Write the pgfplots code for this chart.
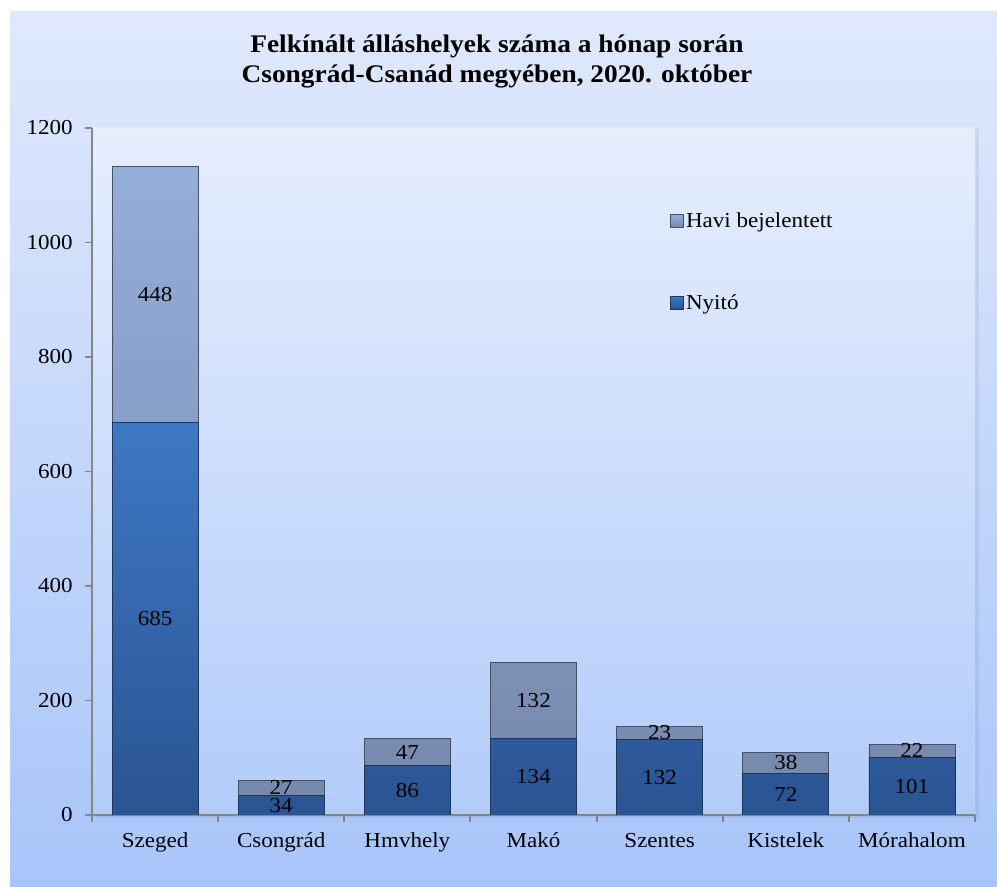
\documentclass[border=0pt]{standalone}
\usepackage{pgfplots}
\pgfplotsset{compat=1.18}
\usepackage{fontspec}
\setmainfont{Liberation Serif}[FakeStretch=1.08]
\definecolor{bgtop}{RGB}{224,233,252}
\definecolor{bgbot}{RGB}{168,197,250}
\definecolor{patop}{RGB}{230,238,253}
\definecolor{pabot}{RGB}{178,204,250}
\definecolor{nyA}{RGB}{62,120,196}
\definecolor{nyB}{RGB}{42,84,146}
\definecolor{nyL}{RGB}{30,55,95}
\definecolor{hvA}{RGB}{148,174,218}
\definecolor{hvB}{RGB}{118,136,172}
\definecolor{hvL}{RGB}{70,80,100}
\definecolor{axgray}{RGB}{134,134,134}
\begin{document}
\begin{tikzpicture}[x=0.75pt,y=0.75pt]
\path[fill=white] (0,0) rectangle (997,887);
\shade[top color=bgtop,bottom color=bgbot] (10,0) rectangle (997,875);
\fill[black,opacity=0.06] (95,69) rectangle (979,759);
\shade[top color=patop,bottom color=pabot] (92,72) rectangle (975,759);
\node[align=center,font=\bfseries\fontsize{19}{22.5}\selectfont] at (497,825)
  {Felkínált álláshelyek száma a hónap során\\Csongrád-Csanád megyében, 2020. október};
\begin{axis}[
  at={(69pt,54pt)}, anchor=south west,
  scale only axis, width=662.25pt, height=515.25pt,
  xmin=-0.5, xmax=6.5, ymin=0, ymax=1200,
  ybar stacked, bar width=64.5pt,
  ytick={0,200,...,1200},
  xtick={0,...,6},
  xticklabels={Szeged,Csongrád,Hmvhely,Makó,Szentes,Kistelek,Mórahalom},
  minor xtick={-0.5,0.5,...,6.5},
  major x tick style={draw=none},
  axis x line*=bottom, axis y line*=left,
  axis line style={axgray,line width=1.4pt,-},
  every outer x axis line/.append style={-},
  every outer y axis line/.append style={-},
  tick style={axgray,line width=1.4pt},
  tick align=outside,
  major tick length=5pt, minor tick length=5pt,
  /pgf/number format/1000 sep={},
  /pgf/number format/assume math mode=true,
  ticklabel style={font=\fontsize{16}{19}\selectfont},
  yticklabel style={xshift=-6pt},
  xticklabel style={anchor=north,text height=11pt,text depth=4pt,yshift=-5pt},
  legend style={at={(0.650,0.885)},anchor=north west,draw=none,fill=none,
    font=\fontsize{16}{19}\selectfont,row sep=45pt,
    /tikz/every even column/.append style={column sep=2pt}},
  legend cell align=left,
  reverse legend,
  legend image code/.code={\draw[#1,line width=0.4pt] (0pt,-4.5pt) rectangle (9.5pt,5pt);},
]
\addplot[draw=nyL,line width=0.6pt,top color=nyA,bottom color=nyB]
  coordinates {(0,685) (1,34) (2,86) (3,134) (4,132) (5,72) (6,101)};
\addlegendentry{Nyitó}
\addplot[draw=hvL,line width=0.6pt,top color=hvA,bottom color=hvB]
  coordinates {(0,448) (1,27) (2,47) (3,132) (4,23) (5,38) (6,22)};
\addlegendentry{Havi bejelentett}
\end{axis}
\begin{axis}[
  at={(69pt,54pt)}, anchor=south west,
  scale only axis, width=662.25pt, height=515.25pt,
  xmin=-0.5, xmax=6.5, ymin=0, ymax=1200, hide axis,
]
\addplot[only marks, mark=none, nodes near coords, point meta=explicit symbolic,
  nodes near coords style={anchor=center,font=\fontsize{16}{19}\selectfont,text=black}]
  table[meta=lab] {
x y lab
0 342.5 685
0 909 448
1 17 34
1 47.5 27
2 43 86
2 109.5 47
3 67 134
3 200 132
4 66 132
4 143.5 23
5 36 72
5 91 38
6 50.5 101
6 112 22
};
\end{axis}
\end{tikzpicture}
\end{document}
